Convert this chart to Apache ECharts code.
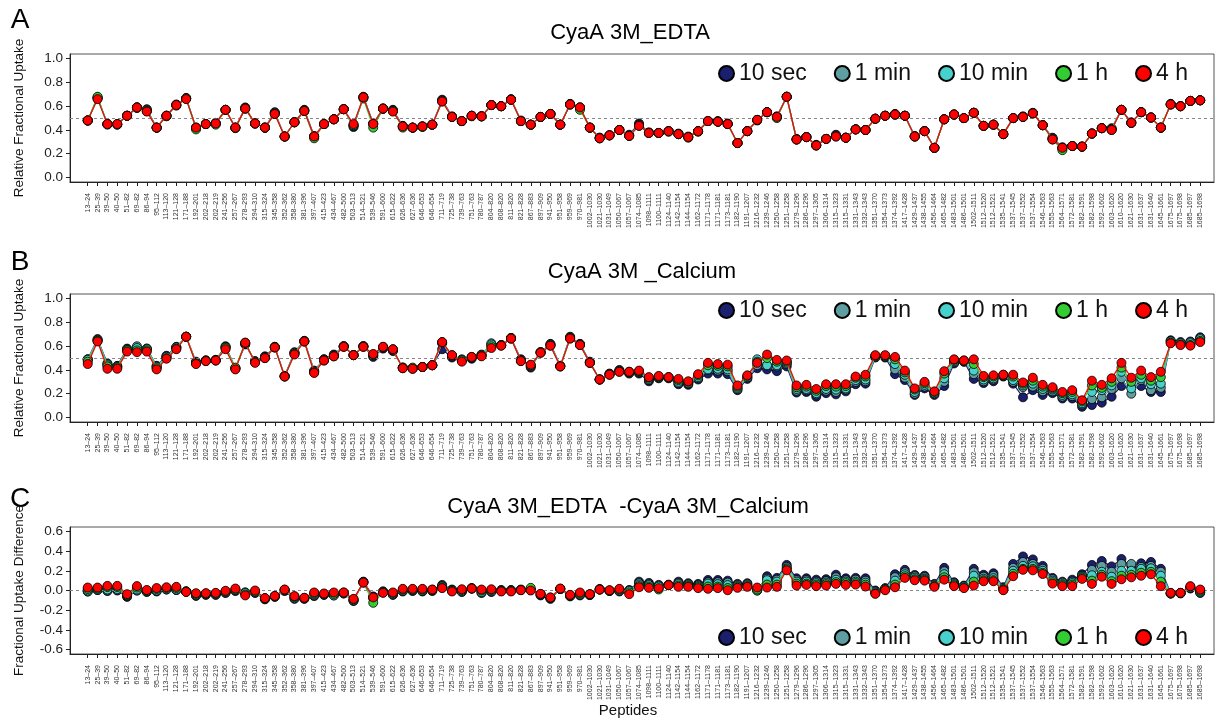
<!DOCTYPE html>
<html><head><meta charset="utf-8">
<script src="https://cdn.jsdelivr.net/npm/echarts@6/dist/echarts.min.js"></script>
<style>html,body{margin:0;padding:0;background:#fff}#main{width:1215px;height:720px}</style>
</head><body><div id="main"></div>
<script>
const categories = ['13–24','25–39','39–50','40–50','51–82','69–82','86–94','95–112','113–120','121–128',
'171–188','192–201','202–218','202–219','241–256','257–267','278–293','294–310','315–324','345–358',
'352–362','358–380','381–396','397–407','415–423','434–467','482–500','503–513','514–521','539–546',
'591–600','615–622','626–636','627–636','646–653','646–654','711–719','725–738','739–763','751–763',
'780–787','804–820','808–820','811–820','821–828','867–883','897–909','941–950','951–958','959–969',
'970–981','1002–1030','1021–1030','1031–1049','1050–1067','1057–1067','1074–1085','1098–1111','1100–1111','1124–1140',
'1142–1154','1144–1154','1162–1172','1171–1178','1171–1181','1173–1181','1182–1190','1191–1207','1216–1232','1239–1246',
'1250–1258','1251–1258','1279–1296','1286–1296','1297–1305','1306–1314','1315–1323','1315–1331','1331–1343','1332–1343',
'1351–1370','1354–1373','1374–1392','1417–1428','1429–1437','1438–1455','1456–1464','1465–1482','1483–1501','1486–1501',
'1502–1511','1512–1520','1512–1521','1535–1541','1537–1545','1537–1552','1537–1554','1546–1563','1555–1563','1564–1571',
'1572–1581','1582–1591','1582–1598','1592–1602','1603–1620','1610–1620','1621–1630','1631–1637','1631–1640','1645–1661',
'1675–1697','1675–1698','1685–1697','1685–1698'];

const seriesNames = ['10 sec','1 min','10 min','1 h','4 h'];
const uptakeTicks = [0,0.2,0.4,0.6,0.8,1.0];
const diffTicks = [-0.6,-0.4,-0.2,0,0.2,0.4,0.6];

// Panel A: CyaA 3M_EDTA
const A_10s = [.48,.675,.45,.445,.52,.59,.575,.42,.52,.615,
.67,.42,.45,.46,.57,.42,.59,.455,.42,.55,
.345,.465,.57,.35,.45,.49,.575,.425,.68,.455,
.58,.57,.435,.42,.43,.445,.655,.515,.475,.52,
.515,.61,.60,.66,.48,.445,.51,.535,.445,.62,
.59,.42,.335,.355,.40,.36,.455,.38,.375,.39,
.37,.345,.39,.475,.475,.455,.29,.39,.48,.55,
.515,.68,.325,.34,.275,.325,.36,.335,.405,.40,
.495,.52,.535,.52,.35,.39,.25,.49,.53,.50,
.545,.435,.445,.365,.50,.515,.545,.44,.335,.255,
.265,.26,.37,.415,.415,.57,.465,.55,.505,.42,
.62,.60,.645,.65];
const A_1min = [.48,.67,.45,.45,.52,.59,.57,.42,.52,.61,
.665,.42,.45,.455,.57,.42,.585,.455,.42,.545,
.345,.465,.565,.345,.45,.49,.575,.435,.675,.455,
.58,.565,.43,.42,.43,.445,.65,.51,.475,.52,
.515,.61,.60,.655,.475,.445,.51,.535,.445,.615,
.59,.42,.335,.355,.40,.355,.445,.375,.375,.39,
.365,.34,.39,.475,.47,.45,.29,.39,.485,.55,
.51,.68,.32,.34,.27,.325,.355,.335,.405,.40,
.495,.52,.53,.52,.345,.39,.25,.49,.53,.50,
.545,.435,.445,.365,.50,.51,.54,.44,.33,.25,
.265,.26,.37,.415,.41,.57,.46,.55,.505,.42,
.615,.60,.645,.65];
const A_10min = [.48,.665,.45,.45,.52,.59,.56,.42,.52,.61,
.665,.415,.45,.455,.57,.42,.58,.455,.42,.54,
.345,.465,.56,.34,.45,.49,.575,.44,.675,.45,
.58,.56,.43,.42,.43,.445,.645,.51,.475,.52,
.515,.61,.60,.655,.475,.445,.51,.535,.445,.615,
.585,.42,.33,.355,.40,.35,.44,.375,.375,.39,
.365,.34,.39,.475,.47,.45,.29,.39,.485,.55,
.51,.68,.32,.34,.27,.325,.35,.335,.405,.40,
.495,.52,.53,.52,.345,.39,.25,.49,.53,.50,
.545,.435,.445,.365,.50,.51,.54,.44,.325,.245,
.265,.26,.37,.415,.405,.57,.46,.55,.505,.42,
.615,.60,.645,.65];
const A_1h = [.48,.68,.445,.445,.52,.585,.56,.42,.515,.605,
.665,.405,.45,.445,.57,.415,.58,.455,.42,.535,
.345,.465,.56,.33,.45,.49,.575,.44,.665,.42,
.58,.56,.42,.42,.425,.445,.64,.51,.475,.515,
.515,.61,.60,.655,.475,.445,.51,.535,.445,.615,
.57,.42,.33,.355,.40,.35,.435,.375,.375,.385,
.365,.335,.385,.475,.47,.45,.29,.39,.485,.55,
.50,.68,.32,.34,.27,.325,.345,.335,.405,.40,
.495,.52,.53,.52,.345,.39,.25,.49,.53,.50,
.545,.435,.445,.365,.50,.51,.54,.44,.32,.23,
.265,.26,.37,.415,.40,.57,.46,.55,.505,.42,
.615,.60,.645,.65];
const A_4h = [.48,.66,.45,.45,.52,.59,.555,.42,.52,.61,
.66,.42,.45,.455,.57,.42,.58,.455,.42,.535,
.345,.465,.56,.345,.45,.49,.575,.45,.675,.45,
.58,.555,.43,.42,.43,.445,.64,.51,.475,.52,
.515,.61,.60,.655,.475,.445,.51,.535,.445,.615,
.59,.42,.33,.355,.40,.35,.435,.375,.375,.39,
.365,.34,.39,.475,.47,.45,.29,.39,.485,.55,
.51,.68,.32,.34,.27,.325,.345,.335,.405,.40,
.495,.52,.53,.52,.345,.39,.25,.49,.53,.50,
.545,.435,.445,.365,.50,.51,.54,.44,.32,.25,
.265,.26,.37,.415,.40,.57,.46,.55,.505,.42,
.615,.60,.645,.65];

// Panel B: CyaA 3M _Calcium
const B_10s = [.49,.66,.455,.435,.58,.585,.58,.435,.52,.595,
.68,.47,.48,.485,.60,.415,.615,.475,.515,.595,
.35,.55,.645,.395,.49,.53,.60,.525,.60,.51,
.58,.56,.42,.415,.425,.44,.575,.505,.48,.495,
.525,.61,.61,.67,.49,.42,.55,.62,.435,.68,
.62,.47,.32,.37,.40,.37,.37,.305,.33,.33,
.28,.275,.32,.37,.37,.365,.23,.325,.415,.405,
.39,.43,.21,.215,.175,.205,.195,.22,.28,.285,
.505,.505,.365,.315,.19,.245,.19,.265,.455,.47,
.325,.29,.305,.345,.285,.17,.23,.19,.205,.16,
.16,.09,.105,.125,.175,.265,.255,.265,.215,.215,
.65,.635,.64,.675];
const B_1min = [.49,.655,.45,.43,.575,.60,.58,.43,.515,.59,
.68,.465,.48,.485,.595,.415,.62,.47,.51,.595,
.35,.545,.645,.39,.49,.525,.60,.525,.60,.52,
.585,.565,.42,.415,.425,.44,.625,.515,.49,.505,
.53,.625,.61,.67,.485,.43,.55,.615,.435,.675,
.615,.465,.32,.365,.395,.375,.38,.315,.335,.335,
.29,.285,.33,.40,.395,.39,.24,.335,.44,.44,
.43,.45,.225,.23,.195,.225,.215,.235,.30,.305,
.51,.51,.405,.335,.20,.26,.20,.30,.465,.47,
.365,.305,.32,.35,.30,.255,.26,.22,.22,.175,
.18,.11,.155,.17,.24,.33,.20,.315,.23,.25,
.645,.63,.635,.67];
const B_10min = [.485,.65,.44,.425,.57,.585,.575,.425,.51,.59,
.68,.46,.48,.48,.59,.41,.625,.47,.505,.59,
.345,.54,.64,.385,.485,.52,.60,.525,.60,.525,
.59,.57,.42,.41,.425,.44,.63,.52,.485,.505,
.525,.615,.61,.665,.48,.435,.55,.61,.43,.67,
.615,.46,.32,.365,.39,.38,.385,.325,.34,.335,
.30,.29,.34,.405,.41,.405,.25,.34,.49,.44,
.44,.46,.24,.24,.205,.24,.235,.245,.315,.32,
.515,.515,.45,.36,.215,.275,.205,.33,.475,.475,
.395,.32,.33,.355,.315,.27,.285,.24,.235,.19,
.195,.12,.215,.23,.27,.385,.245,.33,.28,.285,
.64,.625,.625,.66];
const B_1h = [.47,.645,.43,.42,.565,.565,.565,.415,.50,.58,
.68,.455,.475,.48,.585,.42,.63,.465,.50,.59,
.345,.535,.64,.38,.48,.515,.595,.525,.595,.53,
.595,.575,.415,.42,.425,.44,.635,.525,.48,.51,
.52,.60,.605,.665,.475,.44,.545,.605,.43,.665,
.61,.46,.32,.36,.385,.385,.39,.335,.345,.34,
.315,.30,.355,.44,.435,.43,.26,.35,.47,.50,
.47,.47,.255,.26,.225,.265,.26,.265,.335,.345,
.52,.52,.49,.38,.235,.29,.215,.37,.485,.48,
.45,.34,.345,.36,.345,.285,.31,.26,.245,.205,
.215,.135,.27,.25,.30,.42,.30,.36,.31,.34,
.63,.615,.61,.645];
const B_4h = [.45,.64,.41,.41,.555,.55,.555,.405,.495,.575,
.68,.45,.475,.48,.575,.405,.63,.46,.50,.59,
.345,.53,.64,.375,.48,.515,.595,.525,.595,.535,
.595,.575,.415,.41,.425,.44,.635,.525,.47,.51,
.515,.585,.605,.665,.475,.445,.545,.605,.43,.665,
.61,.46,.32,.36,.385,.385,.395,.34,.35,.34,
.325,.305,.365,.46,.45,.445,.27,.355,.46,.53,
.485,.48,.27,.275,.24,.28,.28,.28,.345,.36,
.525,.525,.51,.395,.245,.30,.22,.39,.49,.48,
.49,.35,.355,.36,.36,.295,.335,.275,.255,.215,
.23,.145,.31,.275,.33,.46,.335,.395,.34,.385,
.625,.61,.605,.635];

// Panel C: difference EDTA - Calcium
const C_10s = [-.01,.005,-.005,0,-.065,0,-.015,-.01,.01,.005,
-.01,-.055,-.045,-.045,-.025,-.005,-.02,-.025,-.09,-.065,
-.005,-.085,-.085,-.057,-.045,-.04,-.03,-.107,.09,-.06,
-.01,-.045,-.01,-.005,-.01,-.005,.057,.01,-.015,.025,
-.025,-.015,.005,.005,.01,.01,-.05,-.085,.015,-.06,
-.05,-.047,.015,-.005,-.01,.005,.09,.077,.057,.06,
.09,.074,.067,.107,.107,.10,.067,.074,0,.145,
.128,.26,.124,.124,.11,.115,.16,.124,.128,.124,
0,.024,.165,.21,.158,.15,.067,.23,.084,.05,
.22,.16,.175,.034,.27,.346,.316,.25,.128,.09,
.11,.165,.26,.30,.245,.32,.245,.276,.29,.22,
-.03,-.03,.02,-.025];
const C_1min = [-.01,.005,0,.005,-.055,0,-.01,-.005,.01,.005,
-.01,-.05,-.04,-.04,-.02,0,-.02,-.02,-.085,-.06,
0,-.08,-.08,-.05,-.04,-.05,-.03,-.1,.085,-.07,
-.01,-.04,-.005,0,-.005,0,.045,.005,-.01,.02,
-.02,-.01,0,0,.005,.005,-.045,-.08,.015,-.055,
-.045,-.045,.01,-.005,-.005,0,.075,.065,.05,.055,
.075,.065,.055,.085,.085,.08,.055,.065,.01,.12,
.11,.24,.105,.105,.09,.095,.135,.105,.11,.10,
-.01,.02,.135,.185,.145,.135,.06,.195,.075,.045,
.185,.14,.15,.025,.23,.29,.27,.22,.115,.08,
.09,.15,.21,.25,.19,.27,.27,.24,.25,.19,
-.03,-.025,.025,-.02];
const C_10min = [0,.01,.01,.015,-.05,.01,-.005,0,.015,.01,
-.01,-.045,-.035,-.035,-.015,.005,-.025,-.015,-.08,-.06,
.005,-.07,-.08,-.04,-.04,-.05,-.025,-.1,.085,-.08,
-.015,-.035,0,.005,0,.005,.04,0,-.005,.02,
-.015,-.005,0,0,.005,.005,-.04,-.075,.015,-.05,
-.04,-.04,.01,0,0,-.005,.06,.055,.04,.055,
.065,.055,.045,.07,.065,.055,.045,.055,0,.105,
.09,.225,.09,.09,.075,.08,.11,.09,.09,.08,
-.02,.015,.10,.165,.13,.12,.05,.165,.065,.04,
.15,.12,.125,.015,.20,.25,.245,.20,.10,.065,
.075,.14,.155,.19,.14,.20,.20,.22,.225,.15,
-.03,-.025,.03,-.01];
const C_1h = [.015,.02,.035,.035,-.045,.03,0,.015,.025,.025,
-.01,-.035,-.03,-.03,-.01,.01,-.04,-.01,-.078,-.057,
.008,-.06,-.075,-.03,-.035,-.035,-.02,-.09,.08,-.125,
-.02,-.025,.01,.01,.01,.008,.03,-.005,.005,.02,
0,.005,-.005,-.005,.005,.027,-.037,-.072,.018,-.048,
-.03,-.038,.01,0,.01,-.02,.045,.04,.01,.055,
.05,.045,.035,.04,.04,.025,.035,.045,.01,.06,
.06,.215,.07,.07,.06,.065,.085,.075,.075,.06,
-.03,.01,.06,.145,.115,.11,.045,.135,.055,.03,
.09,.105,.105,.008,.17,.22,.22,.18,.085,.055,
.06,.13,.10,.16,.095,.15,.16,.18,.19,.09,
-.03,-.025,.04,0];
const C_4h = [.03,.03,.047,.047,-.037,.045,.005,.025,.033,.037,
-.015,-.027,-.027,-.024,-.003,.02,-.05,0,-.077,-.055,
.01,-.057,-.074,-.02,-.03,-.02,-.02,-.085,.08,-.07,
-.024,-.02,.017,.017,.017,.01,.024,-.01,.013,.02,
.01,.013,-.01,-.01,.003,0,-.034,-.07,.02,-.044,
-.02,-.037,.01,.003,.017,-.037,.033,.027,.024,.054,
.037,.037,.024,.017,.024,.003,.027,.037,.03,.03,
.037,.205,.05,.057,.044,.05,.067,.057,.06,.04,
-.034,.003,.033,.128,.104,.10,.037,.11,.044,.024,
.05,.094,.094,.003,.145,.21,.205,.168,.07,.044,
.044,.118,.067,.14,.067,.114,.134,.15,.165,.044,
-.024,-.024,.044,.01];

const panelA = [A_10s, A_1min, A_10min, A_1h, A_4h];
const panelB = [B_10s, B_1min, B_10min, B_1h, B_4h];
const panelC = [C_10s, C_1min, C_10min, C_1h, C_4h];

const colors = ['#1a1f6e', '#5f9ea0', '#48d1cc', '#32cd32', '#ff0000'];
const FONT = '"Liberation Sans", Arial, sans-serif';
const idx = categories.map((_, i) => i);

const grids = [
  {left: 70, top: 54, width: 1144, height: 128},
  {left: 70, top: 294, width: 1144, height: 128},
  {left: 70, top: 527, width: 1144, height: 127}
].map(g => Object.assign(g, {show: true, borderColor: '#555', borderWidth: 1, backgroundColor: 'transparent'}));

function xAxisFor(g) {
  return {
    type: 'value', gridIndex: g, min: -1.8, max: 114.4,
    axisLine: {show: true, onZero: false, lineStyle: {color: '#222', width: 1}},
    axisTick: {show: true, length: 4, customValues: idx, lineStyle: {color: '#222'}},
    axisLabel: {customValues: idx, rotate: 90, fontSize: 7, margin: 11, color: '#333', fontFamily: FONT,
      formatter: v => categories[Math.round(v)]},
    splitLine: {show: false}
  };
}
function yAxisFor(g, min, max, ticks, name) {
  return {
    type: 'value', gridIndex: g, min: min, max: max,
    axisLine: {show: true, onZero: false, lineStyle: {color: '#222', width: 1}},
    axisTick: {show: true, length: 4, customValues: ticks, lineStyle: {color: '#222'}},
    axisLabel: {customValues: ticks, fontSize: 13.5, margin: 7, color: '#222', fontFamily: FONT,
      formatter: v => v.toFixed(1)},
    splitLine: {show: false},
    name: name, nameLocation: 'middle', nameGap: 44, nameRotate: 90,
    nameTextStyle: {fontSize: 13.5, color: '#111', fontFamily: FONT}
  };
}

function panelSeries(g, arrs, refLine) {
  return arrs.map((arr, k) => {
    const s = {
      name: seriesNames[k], type: 'line', xAxisIndex: g, yAxisIndex: g,
      data: arr.map((v, i) => [i, v]),
      symbol: 'circle', symbolSize: 9,
      lineStyle: {color: colors[k], width: 1.2},
      itemStyle: {color: colors[k], borderColor: '#000', borderWidth: 0.8},
      z: 2 + k
    };
    if (k === 0) {
      s.markLine = {silent: true, symbol: 'none', label: {show: false},
        lineStyle: {type: [3, 3], color: '#888', width: 1}, data: [{yAxis: refLine}]};
    }
    return s;
  });
}

function legendAt(top) {
  return {top: top, right: 22, data: seriesNames, icon: 'circle', itemWidth: 15, itemHeight: 15,
    itemGap: 27, textStyle: {fontSize: 23, color: '#111', fontFamily: FONT}};
}

const chart = echarts.init(document.getElementById('main'));
chart.setOption({
  animation: false,
  backgroundColor: '#fff',
  grid: grids,
  xAxis: [xAxisFor(0), xAxisFor(1), xAxisFor(2)],
  yAxis: [
    yAxisFor(0, -0.038, 1.04, uptakeTicks, 'Relative Fractional Uptake'),
    yAxisFor(1, -0.038, 1.04, uptakeTicks, 'Relative Fractional Uptake'),
    yAxisFor(2, -0.645, 0.645, diffTicks, 'Fractional Uptake Difference')
  ],
  legend: [legendAt(57), legendAt(294), legendAt(621)],
  series: [].concat(panelSeries(0, panelA, 0.5), panelSeries(1, panelB, 0.5), panelSeries(2, panelC, 0)),
  graphic: [
    {type: 'text', x: 20, y: 20, style: {text: 'A', fontSize: 28, fontFamily: FONT, fill: '#000', textAlign: 'center', textVerticalAlign: 'middle'}},
    {type: 'text', x: 20, y: 262, style: {text: 'B', fontSize: 28, fontFamily: FONT, fill: '#000', textAlign: 'center', textVerticalAlign: 'middle'}},
    {type: 'text', x: 20, y: 499, style: {text: 'C', fontSize: 28, fontFamily: FONT, fill: '#000', textAlign: 'center', textVerticalAlign: 'middle'}},
    {type: 'text', x: 630, y: 33, style: {text: 'CyaA 3M_EDTA', fontSize: 22, fontFamily: FONT, fill: '#000', textAlign: 'center', textVerticalAlign: 'middle'}},
    {type: 'text', x: 642, y: 272, style: {text: 'CyaA 3M _Calcium', fontSize: 22, fontFamily: FONT, fill: '#000', textAlign: 'center', textVerticalAlign: 'middle'}},
    {type: 'text', x: 628, y: 507, style: {text: 'CyaA 3M_EDTA  -CyaA 3M_Calcium', fontSize: 22, fontFamily: FONT, fill: '#000', textAlign: 'center', textVerticalAlign: 'middle'}},
    {type: 'text', x: 628, y: 711, style: {text: 'Peptides', fontSize: 15, fontFamily: FONT, fill: '#111', textAlign: 'center', textVerticalAlign: 'middle'}}
  ]
});
</script>
</body></html>
